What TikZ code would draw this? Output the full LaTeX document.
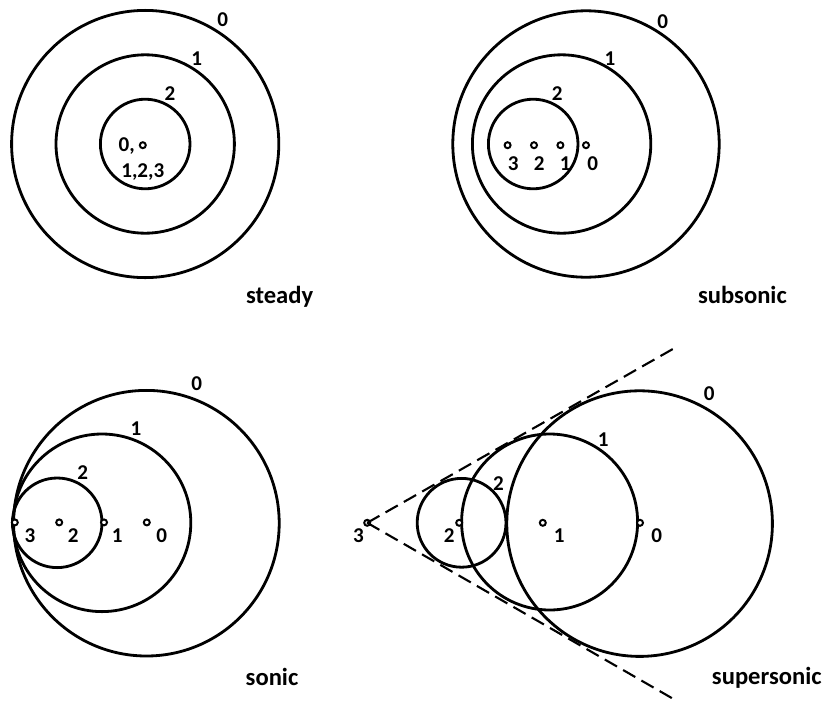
\documentclass[tikz,border=0pt]{standalone}
\usepackage{fontspec}
\setmainfont{Carlito}
\usetikzlibrary{positioning}

\begin{document}
\begin{tikzpicture}[
    wave/.style={line width=2pt},
    src/.style={circle, draw, line width=1.4pt, fill=white, inner sep=0pt, minimum size=0.15cm},
    num/.style={font=\bfseries\fontsize{15}{17}\selectfont, inner sep=0pt},
    ttl/.style={font=\bfseries\fontsize{17.5}{20}\selectfont, inner sep=0pt},
    cone/.style={dashed, dash pattern=on 10pt off 5pt, line width=1.5pt}]
  \useasboundingbox (0,0) rectangle (20.6,-17.6);

  % Subfigure A: steady
  \draw[wave] (3.63,-3.6) circle (1.12);
  \draw[wave] (3.63,-3.6) circle (2.23);
  \draw[wave] (3.63,-3.6) circle (3.34);
  \node[src] (a0) at (3.57,-3.63) {};
  \node[num] at (3.17,-3.64) {0,};
  \node[num] at (3.57,-4.31) {1,2,3};
  \node[num] at (5.57,-0.5) {0};
  \node[num] at (4.92,-1.46) {1};
  \node[num] at (4.25,-2.33) {2};
  \node[ttl] (ta) at (6.99,-7.41) {steady};

  % Subfigure B: subsonic
  \draw[wave] (14.65,-3.6) circle (3.33);
  \draw[wave] (14.04,-3.6) circle (2.23);
  \draw[wave] (13.33,-3.6) circle (1.12);
  \node[src] (b3) at (12.69,-3.63) {};
  \node[src] (b2) at (13.35,-3.63) {};
  \node[src] (b1) at (14.01,-3.63) {};
  \node[src] (b0) at (14.65,-3.63) {};
  \node[num] at (12.83,-4.08) {3};
  \node[num] at (13.48,-4.08) {2};
  \node[num] at (14.13,-4.08) {1};
  \node[num] at (14.82,-4.08) {0};
  \node[num] at (16.57,-0.54) {0};
  \node[num] at (15.25,-1.46) {1};
  \node[num] at (13.93,-2.33) {2};
  \node[ttl] (tb) at (18.56,-7.38) {subsonic};

  % Subfigure C: sonic
  \draw[wave] (3.66,-13.08) circle (3.32);
  \draw[wave] (2.55,-13.07) circle (2.22);
  \draw[wave] (1.43,-13.07) circle (1.12);
  \node[src] (c3) at (0.37,-13.06) {};
  \node[src] (c2) at (1.48,-13.06) {};
  \node[src] (c1) at (2.6,-13.06) {};
  \node[src] (c0) at (3.67,-13.06) {};
  \node[num] at (0.75,-13.39) {3};
  \node[num] at (1.83,-13.39) {2};
  \node[num] at (2.93,-13.39) {1};
  \node[num] at (4.04,-13.39) {0};
  \node[num] at (4.92,-9.58) {0};
  \node[num] at (3.4,-10.71) {1};
  \node[num] at (2.07,-11.81) {2};
  \node[ttl] (tc) at (6.8,-16.92) {sonic};

  % Subfigure D: supersonic
  \draw[wave] (15.99,-13.09) circle (3.32);
  \draw[wave] (13.74,-13.05) circle (2.2);
  \draw[wave] (11.54,-13.07) circle (1.11);
  \node[src] (d3) at (9.18,-13.07) {};
  \node[src] (d2) at (11.48,-13.07) {};
  \node[src] (d1) at (13.57,-13.07) {};
  \node[src] (d0) at (16.0,-13.07) {};
  \coordinate (tip1) at (16.83,-8.72);
  \coordinate (tip2) at (16.88,-17.5);
  \draw[cone] (d3.center) -- (tip1);
  \draw[cone] (d3.center) -- (tip2);
  \node[num] at (8.96,-13.39) {3};
  \node[num] at (11.23,-13.39) {2};
  \node[num] at (13.98,-13.39) {1};
  \node[num] at (16.42,-13.39) {0};
  \node[num] at (17.73,-9.85) {0};
  \node[num] at (15.08,-10.98) {1};
  \node[num] at (12.46,-12.08) {2};
  \node[ttl] (td) at (19.17,-16.95) {supersonic};
\end{tikzpicture}
\end{document}
